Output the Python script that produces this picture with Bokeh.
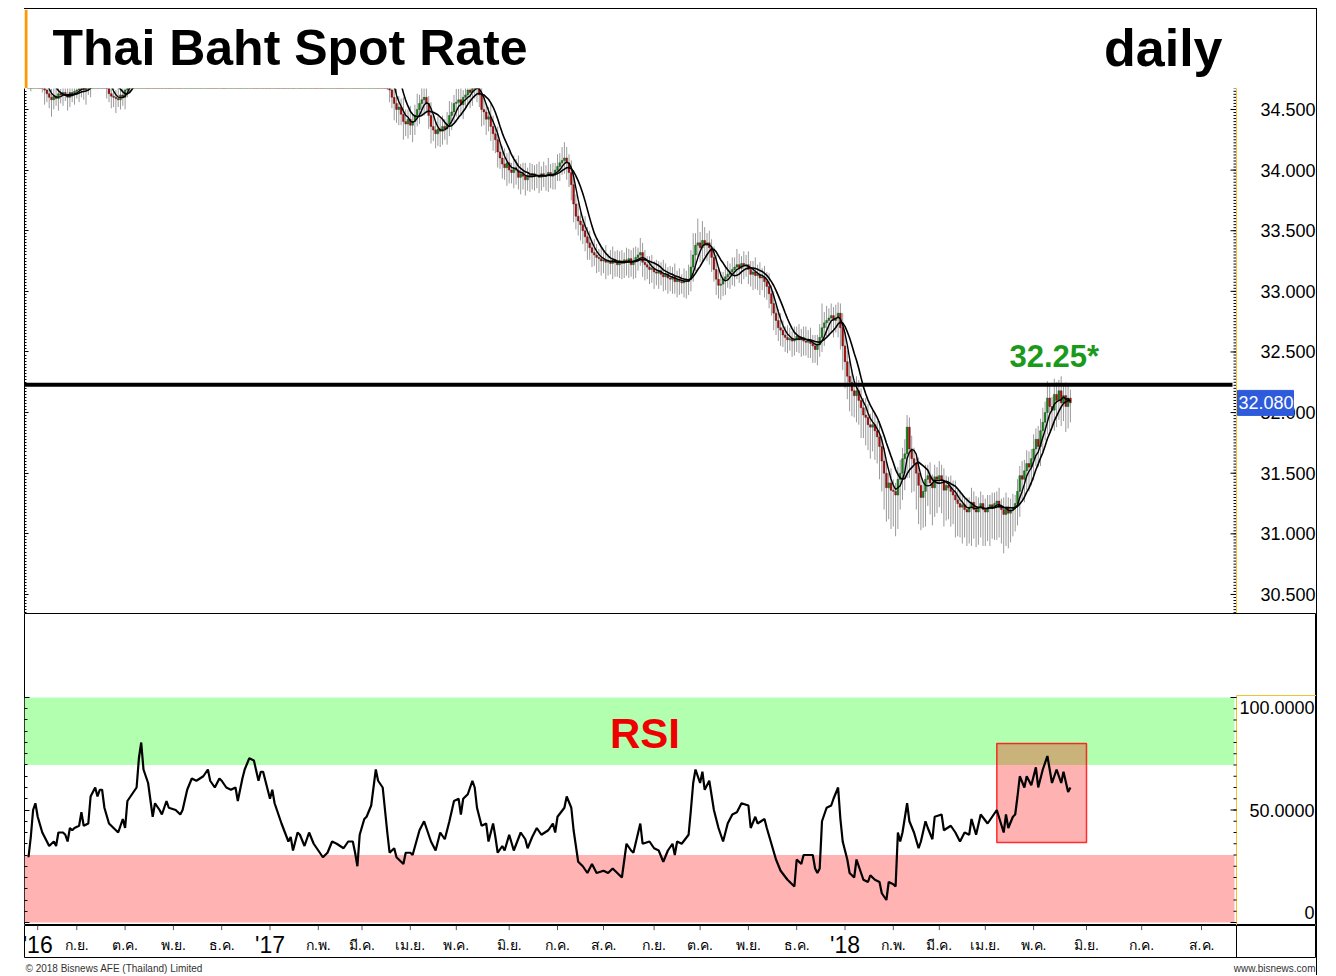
import pandas as pd
from bokeh.plotting import figure
from bokeh.layouts import column, row
from bokeh.models import (Range1d, LinearAxis, FixedTicker, SingleIntervalTicker,
                          Span, ColumnDataSource, Spacer)
from bokeh.core.properties import value
from bokeh.embed import file_html
from bokeh.resources import INLINE

# ---------------- data ----------------
# daily closes, trading day 0 = start of Aug 2016
close = [
    34.74, 34.78, 34.84, 34.86, 34.80, 34.76, 34.70, 34.66, 34.63, 34.60, 34.58, 34.61, 34.59, 34.63, 34.62, 34.64, 34.62, 34.60, 34.64, 34.63,
    34.65, 34.66, 34.67, 34.72, 34.66, 34.68, 34.69, 34.76, 34.80, 34.82, 34.79, 34.82, 34.81, 34.74, 34.68, 34.63, 34.61, 34.60, 34.59, 34.58,
    34.62, 34.60, 34.66, 34.72, 34.80, 34.86, 34.92, 35.00, 35.20, 35.45, 35.30, 35.28, 35.22, 35.16, 35.10, 35.18, 35.15, 35.13, 35.12, 35.17,
    35.15, 35.14, 35.12, 35.10, 35.11, 35.08, 35.06, 35.09, 35.20, 35.30, 35.36, 35.42, 35.44, 35.40, 35.45, 35.48, 35.52, 35.55, 35.58, 35.52,
    35.50, 35.48, 35.55, 35.57, 35.55, 35.52, 35.50, 35.53, 35.55, 35.58, 35.60, 35.52, 35.62, 35.70, 35.76, 35.82, 35.88, 35.90, 35.89, 35.84,
    35.78, 35.82, 35.84, 35.80, 35.76, 35.72, 35.75, 35.68, 35.62, 35.55, 35.50, 35.46, 35.42, 35.36, 35.38, 35.30, 35.34, 35.36, 35.33, 35.28,
    35.24, 35.28, 35.30, 35.26, 35.22, 35.18, 35.14, 35.10, 35.06, 35.08, 35.10, 35.12, 35.14, 35.12, 35.10, 35.08, 35.05, 35.02, 35.05, 35.06,
    35.04, 35.06, 35.00, 34.92, 34.98, 35.04, 35.08, 35.09, 35.12, 35.14, 35.20, 35.26, 35.20, 35.10, 35.00, 34.90, 34.78, 34.66, 34.60, 34.55,
    34.50, 34.52, 34.46, 34.40, 34.38, 34.42, 34.37, 34.40, 34.45, 34.50, 34.55, 34.58, 34.60, 34.55, 34.45, 34.36, 34.33, 34.30, 34.34, 34.32,
    34.36, 34.34, 34.38, 34.45, 34.48, 34.55, 34.56, 34.58, 34.54, 34.60, 34.62, 34.66, 34.64, 34.70, 34.68, 34.70, 34.62, 34.50, 34.48, 34.42,
    34.44, 34.36, 34.30, 34.25, 34.15, 34.10, 34.05, 34.02, 34.06, 34.00, 33.98, 34.02, 34.00, 33.94, 33.97, 33.95, 33.92, 33.96, 33.94, 33.97,
    33.95, 33.96, 33.94, 33.97, 33.95, 33.96, 33.98, 33.95, 33.97, 34.00, 34.03, 34.06, 34.08, 34.10, 34.06, 33.98, 33.88, 33.72, 33.62, 33.58,
    33.55, 33.50, 33.45, 33.40, 33.36, 33.32, 33.30, 33.28, 33.27, 33.25, 33.26, 33.24, 33.25, 33.23, 33.26, 33.24, 33.22, 33.25, 33.23, 33.26,
    33.24, 33.27, 33.22, 33.25, 33.28, 33.30, 33.32, 33.24, 33.22, 33.20, 33.18, 33.19, 33.16, 33.15, 33.17, 33.14, 33.12, 33.14, 33.11, 33.10,
    33.12, 33.08, 33.10, 33.08, 33.07, 33.09, 33.08, 33.10, 33.20, 33.30, 33.38, 33.40, 33.36, 33.42, 33.38, 33.40, 33.36, 33.28, 33.18, 33.10,
    33.05, 33.06, 33.10, 33.12, 33.14, 33.16, 33.18, 33.20, 33.22, 33.19, 33.23, 33.21, 33.22, 33.18, 33.14, 33.16, 33.13, 33.14, 33.11, 33.12,
    33.08, 33.04, 32.98, 32.90, 32.82, 32.76, 32.70, 32.68, 32.64, 32.62, 32.60, 32.61, 32.59, 32.60, 32.63, 32.60, 32.62, 32.59, 32.58, 32.60,
    32.57, 32.55, 32.52, 32.56, 32.62, 32.70, 32.74, 32.76, 32.78, 32.80, 32.76, 32.78, 32.82, 32.70, 32.55, 32.42, 32.30, 32.25, 32.18, 32.14,
    32.18, 32.10, 32.04, 31.98, 31.96, 31.90, 31.88, 31.90, 31.85, 31.80, 31.72, 31.60, 31.50, 31.38, 31.42, 31.36, 31.35, 31.32, 31.45, 31.50,
    31.62, 31.66, 31.88, 31.70, 31.62, 31.58, 31.50, 31.40, 31.30, 31.35, 31.45, 31.48, 31.42, 31.38, 31.47, 31.45, 31.48, 31.44, 31.36, 31.40,
    31.38, 31.35, 31.32, 31.28, 31.25, 31.22, 31.24, 31.20, 31.18, 31.22, 31.26, 31.20, 31.18, 31.22, 31.25, 31.20, 31.18, 31.21, 31.24, 31.22,
    31.25, 31.27, 31.22, 31.20, 31.16, 31.22, 31.17, 31.20, 31.22, 31.25, 31.35, 31.48, 31.45, 31.52, 31.58, 31.55, 31.62, 31.70, 31.78, 31.72,
    31.85, 31.92, 32.00, 32.12, 32.05, 32.02, 32.15, 32.10, 32.18, 32.08, 32.14, 32.05, 32.12, 32.08,
]
# wick extension above / below the body (satang = 0.01 THB)
hi_ext = [
    8, 6, 10, 7, 5, 9, 12, 6, 8, 5, 7, 10, 6, 9, 4, 8, 11, 6, 7, 9,
    5, 8, 6, 10, 7, 4, 9, 6, 12, 8, 5, 7, 9, 6, 10, 5, 8, 7, 6, 11,
    7, 9, 5, 8, 12, 10, 6, 14, 18, 20, 9, 7, 11, 6, 8, 10, 5, 9, 7, 6,
    8, 10, 6, 7, 9, 5, 11, 8, 6, 12, 9, 7, 10, 5, 8, 6, 9, 11, 7, 8,
    6, 9, 7, 10, 5, 8, 12, 6, 9, 7, 10, 8, 5, 11, 7, 9, 6, 8, 10, 7,
    9, 5, 8, 11, 6, 10, 7, 9, 5, 8, 12, 6, 9, 7, 10, 5, 8, 6, 11, 9,
    7, 10, 6, 8, 9, 5, 11, 7, 8, 6, 10, 9, 5, 8, 7, 12, 6, 9, 8, 10,
    6, 8, 11, 7, 9, 5, 10, 8, 6, 9, 12, 7, 10, 8, 14, 9, 11, 16, 8, 10,
    12, 9, 7, 14, 10, 8, 11, 6, 9, 13, 7, 10, 12, 8, 6, 11, 9, 7, 10, 8,
    9, 6, 10, 12, 8, 7, 11, 9, 13, 6, 8, 10, 7, 12, 9, 6, 10, 8, 11, 7,
    8, 12, 9, 6, 11, 7, 10, 13, 8, 9, 6, 10, 7, 12, 8, 9, 11, 6, 10, 8,
    7, 9, 11, 6, 10, 8, 12, 7, 9, 6, 10, 8, 11, 13, 9, 7, 10, 12, 8, 11,
    9, 7, 12, 8, 10, 6, 11, 9, 7, 10, 8, 12, 6, 9, 11, 7, 10, 8, 9, 6,
    10, 8, 7, 11, 9, 6, 12, 8, 10, 7, 9, 11, 6, 10, 8, 7, 12, 9, 6, 10,
    8, 11, 7, 9, 6, 10, 8, 12, 14, 18, 10, 20, 9, 16, 11, 8, 10, 7, 9, 12,
    8, 10, 6, 9, 11, 7, 10, 8, 13, 9, 6, 10, 8, 11, 7, 9, 12, 8, 10, 7,
    9, 8, 11, 7, 10, 6, 9, 12, 8, 7, 10, 9, 6, 11, 8, 10, 7, 9, 12, 8,
    10, 7, 9, 8, 11, 20, 9, 12, 8, 10, 7, 11, 9, 8, 12, 10, 9, 14, 11, 8,
    12, 9, 10, 8, 14, 11, 9, 12, 10, 8, 13, 9, 11, 10, 8, 12, 9, 7, 10, 11,
    9, 12, 10, 8, 11, 9, 7, 13, 10, 8, 12, 9, 11, 7, 10, 8, 12, 9, 10, 8,
    7, 10, 9, 12, 8, 11, 9, 7, 10, 8, 12, 9, 11, 8, 10, 7, 9, 11, 8, 10,
    9, 8, 11, 7, 10, 12, 8, 9, 11, 7, 10, 8, 12, 9, 11, 10, 8, 12, 9, 11,
    10, 12, 9, 14, 11, 8, 13, 10, 9, 12, 8, 11, 10, 7,
]
lo_ext = [
    6, 9, 7, 5, 10, 8, 6, 12, 7, 9, 14, 8, 6, 10, 7, 9, 5, 11, 8, 7,
    9, 6, 10, 7, 8, 12, 6, 9, 7, 5, 10, 8, 11, 6, 9, 7, 10, 8, 12, 6,
    8, 7, 10, 6, 9, 11, 7, 8, 10, 6, 12, 9, 7, 10, 8, 6, 11, 9, 7, 8,
    10, 6, 9, 7, 12, 8, 6, 10, 9, 7, 11, 8, 6, 9, 10, 7, 8, 12, 6, 9,
    7, 10, 8, 6, 11, 9, 7, 12, 8, 10, 6, 9, 11, 7, 8, 10, 6, 9, 12, 8,
    9, 7, 11, 8, 10, 6, 12, 9, 7, 10, 8, 11, 6, 9, 12, 7, 10, 8, 6, 11,
    8, 10, 7, 9, 11, 6, 10, 8, 12, 7, 9, 6, 11, 8, 10, 7, 9, 12, 8, 6,
    10, 7, 9, 11, 8, 6, 10, 9, 7, 12, 8, 10, 6, 9, 11, 8, 12, 10, 9, 14,
    11, 13, 9, 15, 10, 12, 8, 14, 11, 9, 12, 10, 13, 8, 11, 14, 9, 12, 10, 13,
    11, 9, 13, 10, 12, 8, 11, 14, 9, 12, 10, 8, 13, 11, 9, 12, 10, 14, 11, 13,
    10, 12, 14, 11, 13, 9, 12, 10, 15, 11, 9, 13, 12, 10, 14, 11, 13, 9, 12, 10,
    12, 10, 13, 11, 9, 12, 14, 10, 11, 13, 9, 12, 10, 11, 14, 12, 13, 15, 11, 12,
    13, 11, 12, 14, 10, 12, 9, 13, 11, 12, 10, 14, 11, 9, 13, 12, 10, 11, 13, 12,
    11, 13, 10, 12, 14, 11, 9, 12, 13, 10, 12, 11, 14, 10, 13, 9, 12, 11, 13, 10,
    12, 10, 13, 11, 9, 12, 14, 11, 10, 12, 13, 10, 12, 11, 9, 13, 14, 12, 10, 13,
    11, 12, 10, 13, 9, 12, 11, 14, 10, 12, 13, 11, 9, 12, 10, 13, 11, 12, 14, 10,
    13, 11, 12, 10, 14, 12, 11, 13, 10, 12, 11, 9, 13, 12, 10, 11, 14, 12, 11, 13,
    12, 14, 11, 13, 10, 12, 15, 11, 13, 12, 14, 10, 16, 18, 20, 22, 19, 24, 21, 18,
    22, 20, 25, 19, 23, 21, 26, 20, 24, 22, 27, 25, 30, 28, 26, 32, 29, 34, 28, 25,
    22, 26, 20, 24, 28, 23, 30, 32, 27, 25, 29, 22, 26, 31, 24, 28, 23, 27, 30, 25,
    26, 29, 24, 31, 27, 25, 30, 23, 28, 26, 32, 24, 29, 27, 25, 30, 28, 24, 31, 26,
    27, 30, 25, 28, 32, 26, 29, 24, 22, 20, 18, 21, 17, 19, 16, 20, 15, 18, 14, 17,
    16, 19, 15, 18, 20, 14, 17, 22, 16, 19, 15, 21, 18, 16,
]
# RSI: trading day, value
rsi_day = [
    0, 1, 2, 3, 4, 6, 7, 9, 11, 12, 13, 15, 16, 17, 18, 19, 20, 22, 23, 24,
    26, 27, 29, 30, 31, 32, 33, 35, 37, 38, 39, 41, 42, 43, 45, 47, 48, 49, 50, 52,
    54, 55, 57, 58, 60, 61, 64, 66, 67, 69, 71, 73, 76, 78, 79, 81, 83, 84, 86, 88,
    90, 91, 93, 94, 96, 98, 100, 101, 102, 104, 105, 106, 107, 109, 110, 113, 114, 115, 117, 118,
    120, 122, 124, 126, 128, 130, 132, 134, 137, 139, 141, 142, 143, 144, 146, 147, 149, 151, 152, 154,
    156, 157, 159, 160, 163, 164, 166, 167, 170, 172, 175, 177, 179, 181, 183, 185, 187, 188, 189, 191,
    193, 194, 195, 197, 199, 200, 202, 203, 204, 206, 207, 209, 211, 214, 216, 217, 219, 221, 223, 226,
    228, 229, 230, 233, 234, 236, 237, 239, 241, 243, 245, 247, 250, 252, 254, 256, 258, 260, 262, 263,
    266, 267, 270, 272, 274, 276, 278, 280, 281, 282, 284, 287, 288, 289, 290, 292, 293, 294, 296, 298,
    300, 302, 304, 306, 308, 310, 313, 314, 316, 317, 320, 321, 323, 325, 327, 330, 333, 334, 336, 337,
    341, 342, 343, 344, 345, 347, 349, 350, 352, 353, 354, 356, 357, 359, 360, 362, 363, 365, 366, 368,
    370, 371, 373, 374, 376, 377, 378, 379, 380, 382, 383, 385, 387, 388, 390, 391, 393, 394, 397, 398,
    401, 403, 405, 407, 409, 410, 412, 414, 417, 419, 421, 424, 425, 426, 428, 429, 430, 431, 433, 434,
    436, 438, 439, 441, 443, 445, 447, 449, 450, 452, 453,
]
rsi_val = [
    29, 38, 50, 53, 47, 40, 38, 34, 36, 34, 40, 40, 39, 36, 42, 41, 42, 43, 49, 43,
    44, 56, 60, 56, 59, 59, 51, 44, 42, 41, 40, 46, 42, 54, 57, 60, 73, 80, 68, 62,
    47, 53, 50, 48, 54, 51, 50, 48, 50, 59, 64, 63, 65, 68, 63, 60, 64, 63, 60, 59,
    60, 54, 64, 68, 73, 72, 63, 67, 67, 59, 55, 59, 53, 47, 44, 36, 38, 32, 40, 39,
    34, 40, 35, 32, 29, 31, 36, 35, 33, 36, 36, 31, 25, 39, 46, 47, 52, 68, 63, 60,
    40, 31, 33, 29, 26, 31, 31, 30, 41, 45, 36, 32, 40, 37, 45, 54, 55, 48, 55, 57,
    63, 60, 51, 43, 44, 36, 44, 38, 31, 34, 32, 39, 32, 40, 37, 33, 38, 42, 39, 41,
    44, 40, 47, 51, 56, 51, 41, 27, 25, 22, 26, 22, 23, 22, 24, 22, 20, 35, 32, 31,
    44, 35, 36, 33, 32, 27, 32, 35, 30, 36, 35, 39, 50, 62, 68, 62, 67, 59, 63, 50,
    42, 36, 44, 48, 49, 53, 52, 42, 47, 44, 46, 42, 35, 28, 23, 19, 16, 28, 26, 30,
    30, 24, 22, 24, 45, 51, 52, 55, 60, 46, 36, 28, 22, 20, 28, 22, 19, 18, 21, 19,
    18, 13, 10, 18, 17, 16, 40, 36, 40, 53, 45, 40, 33, 36, 45, 42, 37, 47, 48, 41,
    43, 40, 36, 40, 39, 46, 39, 48, 44, 47, 50, 40, 48, 42, 47, 48, 56, 65, 60, 65,
    61, 69, 60, 68, 74, 62, 68, 62, 67, 58, 60,
]
# time axis: trading-day position of each month label
axis_pos = [4, 21, 42, 63, 84, 105, 126, 145, 166, 186, 209, 230, 250,
            272, 292, 313, 334, 355, 376, 396, 416, 437, 460, 484, 510]
axis_lbl = ["'16", "ก.ย.", "ต.ค.", "พ.ย.", "ธ.ค.", "'17", "ก.พ.", "มี.ค.", "เม.ย.",
            "พ.ค.", "มิ.ย.", "ก.ค.", "ส.ค.", "ก.ย.", "ต.ค.", "พ.ย.", "ธ.ค.", "'18",
            "ก.พ.", "มี.ค.", "เม.ย.", "พ.ค.", "มิ.ย.", "ก.ค.", "ส.ค."]
price_ticks = [30.5, 31.0, 31.5, 32.0, 32.5, 33.0, 33.5, 34.0, 34.5]
rsi_ticks = [0, 50, 100]
rsi_tick_lbl = ["0", "50.0000", "100.0000"]
resistance = 32.23
resistance_lbl = "32.25*"
last_price = 32.08
rsi_box_days = [421, 460]
rsi_box_vals = [35.6, 79.6]

# ---------------- styling / layout constants ----------------
FONT = "Liberation Sans"
PX_PER_DAY = 2.3
FIRST_PX = 4.0            # first candle sits 4px right of the frame edge
PLOT_W = 1212             # width of the plotting area
AXIS_W = 80               # width of the value-axis box on the right
FULL_W = PLOT_W + AXIS_W
PRICE_H, RSI_H = 525, 312
P_LO, P_HI = 30.343, 34.673
R_LO, R_HI = -1.333, 137.333
P_PX = PRICE_H / (P_HI - P_LO)     # pixels per baht
R_PX = RSI_H / (R_HI - R_LO)       # pixels per RSI point
UP, DOWN = "#0a8f0a", "#c00000"
YELLOW, BLUE = "#f2c230", "#2d5bdc"


def xpx(px):
    """data x of a pixel offset measured from the left edge of the frame"""
    return -FIRST_PX / PX_PER_DAY + px / PX_PER_DAY


X0, X1, XF = xpx(0), xpx(PLOT_W), xpx(FULL_W)


def bare(fig):
    fig.grid.visible = False
    fig.background_fill_color = "white"
    fig.border_fill_color = "white"
    return fig


def tick_axis(ticker, **kw):
    # an axis that only draws its line and tick marks
    return LinearAxis(ticker=ticker, major_label_text_font_size="1px", major_label_text_color=None,
                      major_label_standoff=0, major_tick_out=0, minor_tick_out=0,
                      major_tick_line_color="black", minor_tick_line_color="black", **kw)


def panel(height, y_lo, y_hi):
    fig = figure(frame_width=FULL_W, frame_height=height, x_range=Range1d(X0, XF),
                 y_range=Range1d(y_lo, y_hi), x_axis_location=None, y_axis_location=None,
                 min_border=0, output_backend="svg", toolbar_location=None)
    return bare(fig)


# ---------------- title strip ----------------
t = bare(figure(frame_width=FULL_W, frame_height=79, x_range=Range1d(0, FULL_W),
                y_range=Range1d(0, 79), x_axis_location=None, y_axis_location=None,
                min_border=0, output_backend="svg", toolbar_location=None))
t.outline_line_color = None
t.quad(left=[0], right=[3], bottom=[0], top=[79], fill_color="#ff9900", line_color=None)
t.text(x=[28], y=[41], text=["Thai Baht Spot Rate"], text_font=value(FONT), text_font_style="bold",
       text_font_size="50px", text_color="black", text_align="left", text_baseline="middle")
t.text(x=[1198], y=[41], text=["daily"], text_font=value(FONT), text_font_style="bold",
       text_font_size="52px", text_color="black", text_align="right", text_baseline="middle")

# ---------------- price panel ----------------
n = len(close)
days = list(range(n))
opn = [close[0]] + close[:-1]
top = [max(o, c) for o, c in zip(opn, close)]
bot = [min(o, c) for o, c in zip(opn, close)]
high = [tp + h / 100 for tp, h in zip(top, hi_ext)]
low = [bt - l / 100 for bt, l in zip(bot, lo_ext)]
col = [UP if c >= o else DOWN for o, c in zip(opn, close)]
src = ColumnDataSource(dict(x=days, top=top, bot=bot, high=high, low=low, col=col))
ser = pd.Series(close)
ma_fast = ser.rolling(5).mean().tolist()
ma_slow = ser.rolling(10).mean().tolist()

p = panel(PRICE_H, P_LO, P_HI)
p.outline_line_color = None
p.add_layout(tick_axis(SingleIntervalTicker(interval=0.5, num_minor_ticks=20),
                       major_tick_in=4, minor_tick_in=2, axis_line_color="black"), "left")
p.segment(x0="x", y0="low", x1="x", y1="high", source=src, line_color="#9a9a9a", line_width=1)
p.vbar(x="x", width=0.8, top="top", bottom="bot", source=src, fill_color="col", line_color="#2a2a2a",
       line_width=0.4)
p.line(days, ma_slow, line_color="black", line_width=1.6)
p.line(days, ma_fast, line_color="black", line_width=1.4)
p.segment(x0=[X0], x1=[xpx(PLOT_W - 4)], y0=[resistance], y1=[resistance], line_color="black",
          line_width=4)
p.text(x=[446], y=[32.46], text=[resistance_lbl], text_font=value(FONT), text_font_style="bold",
       text_font_size="31px", text_color="#1a9a1a", text_align="center", text_baseline="middle")
# value axis box on the right
minor_p = [P_LO + 0.007 + k * 0.025 for k in range(int((P_HI - P_LO) / 0.025) + 1)]
p.add_layout(Span(location=X1, dimension="height", line_color=YELLOW, line_width=1))
p.segment(x0=[xpx(PLOT_W - 3)] * len(minor_p), x1=[X1] * len(minor_p), y0=minor_p, y1=minor_p,
          line_color="black", line_width=1)
p.segment(x0=[xpx(PLOT_W - 6)] * len(price_ticks), x1=[X1] * len(price_ticks), y0=price_ticks,
          y1=price_ticks, line_color="black", line_width=1)
p.text(x=[xpx(PLOT_W + 24)] * len(price_ticks), y=price_ticks,
       text=[f"{v:.3f}" for v in price_ticks], text_font=value(FONT), text_font_size="18px",
       text_color="black", text_align="left", text_baseline="middle")
p.quad(left=[xpx(PLOT_W + 1)], right=[xpx(PLOT_W + 57)], bottom=[last_price - 12.5 / P_PX],
       top=[last_price + 12.5 / P_PX], fill_color=BLUE, line_color=BLUE)
p.text(x=[xpx(PLOT_W + 2)], y=[last_price], text=[f"{last_price:.3f}"], text_font=value(FONT),
       text_font_size="18px", text_color="white", text_align="left", text_baseline="middle")

# ---------------- RSI panel ----------------
r = panel(RSI_H, R_LO, R_HI)
r.outline_line_color = "black"
r.quad(left=[X0, X0], right=[xpx(PLOT_W - 2)] * 2, bottom=[70, 0], top=[100, 30],
       fill_color=["#b3ffb0", "#ffb3b3"], line_color=None)
r.add_layout(tick_axis(FixedTicker(ticks=rsi_ticks, minor_ticks=list(range(5, 100, 5))),
                       major_tick_in=5, minor_tick_in=3, axis_line_color=None), "left")
minor_r = list(range(5, 100, 5))
r_box_top = 100 + 2 / R_PX
r.segment(x0=[X1, X1], x1=[X1, XF], y0=[R_LO, r_box_top], y1=[r_box_top, r_box_top],
          line_color=YELLOW, line_width=1)
r.segment(x0=[xpx(PLOT_W - 3)] * len(minor_r), x1=[X1] * len(minor_r), y0=minor_r, y1=minor_r,
          line_color="black", line_width=1)
r.segment(x0=[xpx(PLOT_W - 6)] * len(rsi_ticks), x1=[X1] * len(rsi_ticks), y0=rsi_ticks,
          y1=rsi_ticks, line_color="black", line_width=1)
lbl_x = xpx(FULL_W - 2)
r.text(x=[lbl_x], y=[rsi_ticks[2] - 10 / R_PX], text=[rsi_tick_lbl[2]], text_font=value(FONT),
       text_font_size="18px", text_color="black", text_align="right", text_baseline="middle")
r.text(x=[lbl_x], y=[rsi_ticks[1]], text=[rsi_tick_lbl[1]], text_font=value(FONT),
       text_font_size="18px", text_color="black", text_align="right", text_baseline="middle")
r.text(x=[lbl_x], y=[rsi_ticks[0] + 10 / R_PX], text=[rsi_tick_lbl[0]], text_font=value(FONT),
       text_font_size="18px", text_color="black", text_align="right", text_baseline="middle")
r.quad(left=[rsi_box_days[0]], right=[rsi_box_days[1]], bottom=[rsi_box_vals[0]], top=[rsi_box_vals[1]],
       fill_color="red", fill_alpha=0.3, line_color="red", line_alpha=0.8, line_width=1.5)
r.line(rsi_day, rsi_val, line_color="black", line_width=2.2)
r.text(x=[268], y=[84], text=["RSI"], text_font=value(FONT), text_font_style="bold",
       text_font_size="42px", text_color="#ee0000", text_align="center", text_baseline="middle")

# ---------------- time axis strip ----------------
s = bare(figure(frame_width=FULL_W, frame_height=33, x_range=Range1d(X0, XF),
                y_range=Range1d(0, 1), x_axis_location=None, y_axis_location=None,
                min_border=0, output_backend="svg", toolbar_location=None))
s.outline_line_color = "black"
s.add_layout(Span(location=X1, dimension="height", line_color="black", line_width=1))
s.segment(x0=axis_pos, y0=[1.0] * len(axis_pos), x1=axis_pos, y1=[0.86] * len(axis_pos),
          line_color="#555555", line_width=1)
yr_pos = [x for x, l in zip(axis_pos, axis_lbl) if l.startswith("'")]
yr_lbl = [l for l in axis_lbl if l.startswith("'")]
mo_pos = [x for x, l in zip(axis_pos, axis_lbl) if not l.startswith("'")]
mo_lbl = [l for l in axis_lbl if not l.startswith("'")]
s.text(x=mo_pos, y=[0.42] * len(mo_pos), text=mo_lbl, text_font=value(FONT), text_font_size="14px",
       text_color="black", text_align="center", text_baseline="middle")
s.text(x=yr_pos, y=[0.42] * len(yr_pos), text=yr_lbl, text_font=value(FONT), text_font_size="23px",
       text_color="black", text_align="center", text_baseline="middle")

# ---------------- footer ----------------
f = bare(figure(frame_width=FULL_W, frame_height=17, x_range=Range1d(0, FULL_W),
                y_range=Range1d(0, 17), x_axis_location=None, y_axis_location=None,
                min_border=0, output_backend="svg", toolbar_location=None))
f.outline_line_color = None
f.text(x=[1], y=[7], text=["© 2018 Bisnews AFE (Thailand) Limited"], text_font=value(FONT),
       text_font_size="10px", text_color="#333333", text_align="left", text_baseline="middle")
f.text(x=[FULL_W - 1], y=[7], text=["www.bisnews.com"], text_font=value(FONT),
       text_font_size="10px", text_color="#333333", text_align="right", text_baseline="middle")

chart = column(t, p, r, s, f, styles={"border-top": "1px solid black", "border-right": "1px solid black"})
root = column(Spacer(width=10, height=8), row(Spacer(width=24, height=10), chart))

html = file_html(root, INLINE, title="Thai Baht Spot Rate")
html = html.replace("<body>", '<body style="background-color:#f0f0f0;">', 1)
open("out.html", "w").write(html)
